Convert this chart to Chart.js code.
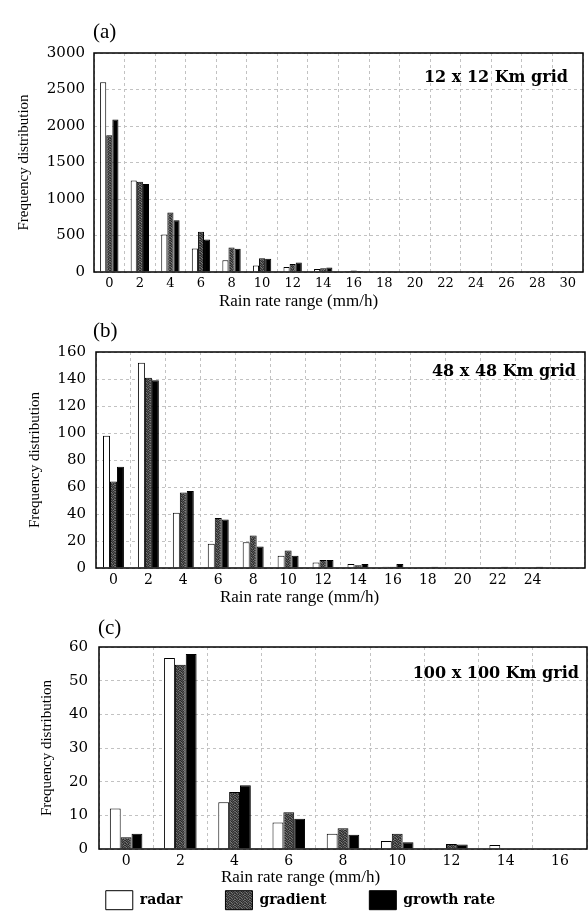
<!DOCTYPE html>
<html>
<head>
<meta charset="utf-8">
<title>Rain rate frequency distribution</title>
<script src="https://cdn.jsdelivr.net/npm/chart.js@4.4.1/dist/chart.umd.min.js"></script>
<style>
  body { margin: 0; background: #fff; }
  #wrap { position: relative; width: 588px; height: 920px; }
  canvas { position: absolute; left: 0; }
</style>
</head>
<body>
<div id="wrap">
  <canvas id="chartA" width="588" height="315" style="top:0"></canvas>
  <canvas id="chartB" width="588" height="295" style="top:315px"></canvas>
  <canvas id="chartC" width="588" height="310" style="top:610px"></canvas>
</div>
<script>
// (a) 12 x 12 km grid
const rangesA = ['0', '2', '4', '6', '8', '10', '12', '14', '16', '18', '20', '22', '24', '26', '28', '30'];
const radarA = [2600, 1255, 512, 321, 160, 90, 70, 40, 15, 10, 5, 0, 0, 0, 0, 0];
const gradientA = [1875, 1235, 815, 550, 335, 190, 110, 50, 20, 10, 5, 0, 0, 0, 0, 0];
const growthA = [2090, 1205, 710, 445, 320, 180, 130, 60, 15, 10, 5, 0, 0, 0, 0, 0];

// (b) 48 x 48 km grid
const rangesB = ['0', '2', '4', '6', '8', '10', '12', '14', '16', '18', '20', '22', '24', ''];
const radarB = [98, 152, 41, 18, 19, 9, 4, 3, 1, 0.5, 0, 0, 0, 0];
const gradientB = [64, 141, 56, 37, 24, 13, 6, 2, 1, 0.5, 0, 0, 0, 0];
const growthB = [75, 139, 57, 36, 16, 9, 6, 3, 3, 1, 0.5, 1, 1, 0];

// (c) 100 x 100 km grid
const rangesC = ['0', '2', '4', '6', '8', '10', '12', '14', '16'];
const radarC = [12, 56.7, 13.9, 7.9, 4.5, 2.4, 0, 1.2, 0];
const gradientC = [3.5, 54.7, 16.9, 10.9, 6.2, 4.5, 1.5, 0, 0];
const growthC = [4.5, 57.9, 18.9, 9, 4.2, 2, 1.3, 0, 0];

const serif = 'DejaVu Serif';
const textSerif = 'Liberation Serif';

// speckled dark fill for the "gradient" series
function speckle() {
  const c = document.createElement('canvas');
  c.width = 5; c.height = 5;
  const g = c.getContext('2d');
  const shades = ['#2a2a2a', '#5c5c5c', '#3e3e3e', '#767676', '#333333',
                  '#6a6a6a', '#262626', '#505050', '#303030', '#626262',
                  '#444444', '#7a7a7a', '#2e2e2e', '#585858', '#3a3a3a',
                  '#282828', '#4a4a4a', '#6e6e6e', '#363636', '#525252',
                  '#666666', '#323232', '#484848', '#2c2c2c', '#707070'];
  shades.forEach((s, i) => { g.fillStyle = s; g.fillRect(i % 5, Math.floor(i / 5), 1, 1); });
  return g.createPattern(c, 'repeat');
}
const gradFill = speckle();

// frame, panel letter and grid note
const panelText = {
  id: 'panelText',
  afterDatasetsDraw(chart, args, o) {
    const {ctx, chartArea: a} = chart;
    ctx.save();
    ctx.strokeStyle = '#000';
    ctx.lineWidth = 1.5;
    ctx.strokeRect(a.left, a.top, a.right - a.left, a.bottom - a.top);
    ctx.fillStyle = '#000';
    ctx.textBaseline = 'middle';
    ctx.font = '21px "Liberation Serif"';
    ctx.textAlign = 'left';
    ctx.fillText(o.label, o.labelX, o.labelY);
    ctx.font = 'bold 16px "DejaVu Serif"';
    ctx.textAlign = 'right';
    ctx.fillText(o.note, a.right - o.noteRight, a.top + o.noteTop);
    ctx.restore();
  }
};

function makeChart(id, p) {
  return new Chart(document.getElementById(id), {
    type: 'bar',
    data: {
      labels: p.labels,
      datasets: [
        { label: 'radar', data: p.radar, backgroundColor: '#fff' },
        { label: 'gradient', data: p.gradient, backgroundColor: gradFill },
        { label: 'growth rate', data: p.growth, backgroundColor: '#000' }
      ]
    },
    options: {
      responsive: false,
      animation: false,
      layout: { padding: { left: 14, right: p.right, top: p.top, bottom: p.bottom } },
      datasets: { bar: { categoryPercentage: 0.6, barPercentage: 1, borderColor: '#000', borderWidth: 1 } },
      scales: {
        x: {
          grid: { color: '#c2c2c2', drawTicks: false },
          border: { display: false, dash: [3, 3] },
          ticks: { color: '#000', padding: 4, maxRotation: 0, autoSkip: false,
                   font: { family: serif, size: p.xFont } },
          afterFit: s => { s.height = p.xh; }
        },
        y: {
          min: 0, max: p.max,
          grid: { color: '#c2c2c2', drawTicks: false },
          border: { display: false, dash: [3, 3] },
          ticks: { color: '#000', stepSize: p.step, padding: p.tickPad,
                   font: { family: serif, size: 15 },
                   callback: v => String(v) },
          title: { display: true, text: 'Frequency distribution', color: '#000',
                   font: { family: textSerif, size: 15 }, padding: { top: p.titlePad, bottom: 0 } },
          afterFit: s => { s.width = p.yw; }
        }
      },
      plugins: {
        tooltip: { enabled: false },
        title: {
          display: true, position: 'bottom', weight: 500,
          text: 'Rain rate range (mm/h)', color: '#000', padding: 0,
          font: { family: textSerif, size: 17, weight: 'normal', lineHeight: 1.1 }
        },
        legend: p.legend ? {
          display: true, position: 'bottom', weight: 1000,
          labels: {
            boxWidth: 27, boxHeight: 19, padding: 4, color: '#000',
            font: { family: serif, size: 14, weight: 'bold' },
            generateLabels(chart) {
              const items = Chart.defaults.plugins.legend.labels.generateLabels(chart);
              items.forEach((it, i) => { if (i < items.length - 1) it.text += '        '; });
              return items;
            }
          }
        } : { display: false },
        panelText: p.text
      }
    },
    plugins: [panelText]
  });
}

makeChart('chartA', {
  labels: rangesA, radar: radarA, gradient: gradientA, growth: growthA,
  max: 3000, step: 500, top: 53, bottom: 4.3, right: 5, xh: 20, yw: 80,
  tickPad: 9, titlePad: 1, xFont: 13, legend: false,
  text: { label: '(a)', labelX: 93, labelY: 32, note: '12 x 12 Km grid', noteRight: 15, noteTop: 25 }
});

makeChart('chartB', {
  labels: rangesB, radar: radarB, gradient: gradientB, growth: growthB,
  max: 160, step: 20, top: 37, bottom: 3.3, right: 3, xh: 20, yw: 82,
  tickPad: 10, titlePad: 12, xFont: 14, legend: false,
  text: { label: '(b)', labelX: 93, labelY: 16, note: '48 x 48 Km grid', noteRight: 9, noteTop: 20 }
});

makeChart('chartC', {
  labels: rangesC, radar: radarC, gradient: gradientC, growth: growthC,
  max: 60, step: 10, top: 37, bottom: 0.3, right: 1, xh: 19, yw: 85,
  tickPad: 11, titlePad: 24, xFont: 14, legend: true,
  text: { label: '(c)', labelX: 98, labelY: 18, note: '100 x 100 Km grid', noteRight: 8, noteTop: 27 }
});
</script>
</body>
</html>
